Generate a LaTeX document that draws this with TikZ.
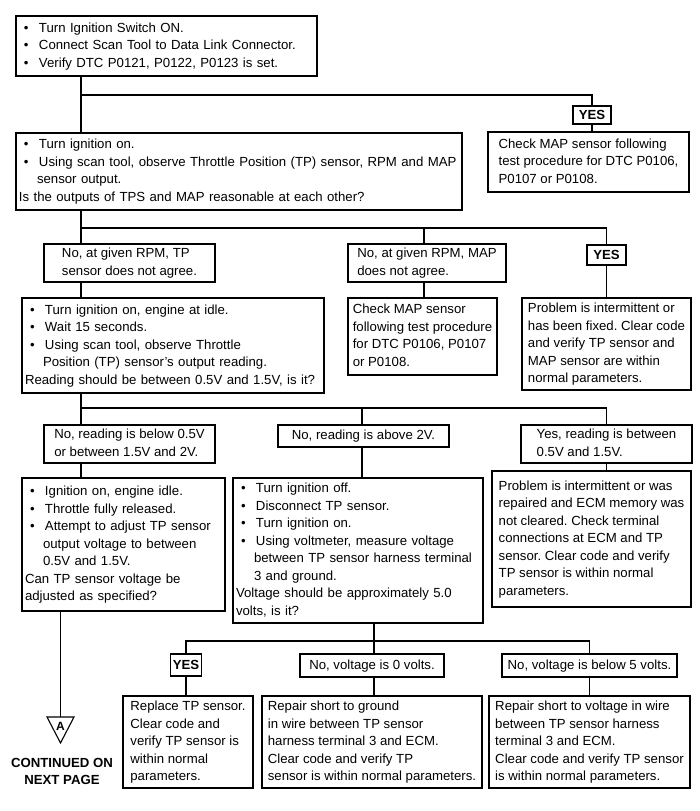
\documentclass[tikz,border=0pt]{standalone}
\usepackage{fontspec}
\setmainfont{Liberation Sans}
\setlength{\parindent}{0pt}
\frenchspacing
\newcommand\bu{\makebox[20pt][l]{\hspace{5pt}\textbullet}}
\newcommand\ct{\hspace*{18pt}}
\newcommand\tbl[1]{\begin{tabular}{@{}l@{}}#1\end{tabular}}
\begin{document}
\begin{tikzpicture}[x=1pt,y=-1pt,
  every node/.style={font=\fontsize{13.2}{17.5}\selectfont},
  box/.style={draw,line width=1.2pt,inner xsep=2pt,inner ysep=0pt},
  bbox/.style={draw,line width=1.2pt,inner xsep=3pt,inner ysep=0pt,align=left},
  yesbox/.style={box,font=\fontsize{13.2}{17.5}\selectfont\bfseries},
  conn/.style={line width=1.1pt}]
\useasboundingbox (0,0) rectangle (700,811);

% row 1
\node[bbox,text width=295pt,minimum height=60pt] (b1) at (166.5,46) {\tbl{%
\bu Turn Ignition Switch ON.\\
\bu Connect Scan Tool to Data Link Connector.\\
\bu Verify DTC P0121, P0122, P0123 is set.}};
\node[yesbox,minimum width=38pt,minimum height=18pt] (yes1) at (592,115) {YES};
\node[box,minimum width=201pt,minimum height=60pt] (b3) at (588.5,162) {\tbl{%
Check MAP sensor following\\
test procedure for DTC P0106,\\
P0107 or P0108.}};
\node[bbox,text width=440pt,minimum height=77pt] (b2) at (239,171.5) {\tbl{%
\bu Turn ignition on.\\
\bu Using scan tool, observe Throttle Position (TP) sensor, RPM and MAP\\
\ct sensor output.\\
Is the outputs of TPS and MAP reasonable at each other?}};

% row 2
\node[box,minimum width=171pt,minimum height=38pt] (l1) at (129.5,263) {\tbl{%
No, at given RPM, TP\\
sensor does not agree.}};
\node[box,minimum width=158pt,minimum height=38pt] (l2) at (427,263) {\tbl{%
No, at given RPM, MAP\\
does not agree.}};
\node[yesbox,minimum width=39pt,minimum height=20pt] (yes2) at (606.5,255) {YES};

\node[bbox,text width=296pt,minimum height=95pt] (tp) at (173,345.5) {\tbl{%
\bu Turn ignition on, engine at idle.\\
\bu Wait 15 seconds.\\
\bu Using scan tool, observe Throttle\\
\ct Position (TP) sensor's output reading.\\
Reading should be between 0.5V and 1.5V, is it?}};
\node[box,minimum width=149pt,minimum height=77pt] (b4) at (422.5,336.5) {\tbl{%
Check MAP sensor\\
following test procedure\\
for DTC P0106, P0107\\
or P0108.}};
\node[box,minimum width=169pt,minimum height=92pt] (b5) at (606.5,344) {\tbl{%
Problem is intermittent or\\
has been fixed. Clear code\\
and verify TP sensor and\\
MAP sensor are within\\
normal parameters.}};

% row 3
\node[box,minimum width=171pt,minimum height=38pt] (l3) at (129.5,444) {\tbl{%
No, reading is below 0.5V\\
or between 1.5V and 2V.}};
\node[box,minimum width=171pt,minimum height=22pt] (l4) at (363.5,436) {\tbl{%
No, reading is above 2V.}};
\node[box,minimum width=171pt,minimum height=38pt] (l5) at (606.5,444) {\tbl{%
Yes, reading is between\\
0.5V and 1.5V.}};

\node[bbox,text width=197pt,minimum height=133pt] (b6) at (123.5,544.5) {\tbl{%
\bu Ignition on, engine idle.\\
\bu Throttle fully released.\\
\bu Attempt to adjust TP sensor\\
\ct output voltage to between\\
\ct 0.5V and 1.5V.\\
Can TP sensor voltage be\\
adjusted as specified?}};
\node[bbox,text width=244pt,minimum height=145pt] (b7) at (358,550.5) {\tbl{%
\bu Turn ignition off.\\
\bu Disconnect TP sensor.\\
\bu Turn ignition on.\\
\bu Using voltmeter, measure voltage\\
\ct between TP sensor harness terminal\\
\ct 3 and ground.\\
Voltage should be approximately 5.0\\
volts, is it?}};
\node[box,minimum width=199pt,minimum height=136pt] (b8) at (591.5,539) {\tbl{%
Problem is intermittent or was\\
repaired and ECM memory was\\
not cleared. Check terminal\\
connections at ECM and TP\\
sensor. Clear code and verify\\
TP sensor is within normal\\
parameters.}};

% row 4
\node[yesbox,minimum width=30pt,minimum height=22pt] (yes3) at (186,665) {YES};
\node[box,minimum width=144pt,minimum height=23pt] (l6) at (372,665.5) {\tbl{%
No, voltage is 0 volts.}};
\node[box,minimum width=175pt,minimum height=23pt] (l7) at (589.5,665.5) {\tbl{%
No, voltage is below 5 volts.}};

\node[box,minimum width=130pt,minimum height=92pt] (r1) at (188,742) {\tbl{%
Replace TP sensor.\\
Clear code and\\
verify TP sensor is\\
within normal\\
parameters.}};
\node[box,minimum width=220pt,minimum height=92pt] (r2) at (372,742) {\tbl{%
Repair short to ground\\
in wire between TP sensor\\
harness terminal 3 and ECM.\\
Clear code and verify TP\\
sensor is within normal parameters.}};
\node[box,minimum width=201pt,minimum height=92pt] (r3) at (589.5,742) {\tbl{%
Repair short to voltage in wire\\
between TP sensor harness\\
terminal 3 and ECM.\\
Clear code and verify TP sensor\\
is within normal parameters.}};

% off-page connector
\coordinate (T) at (60.5,717);
\draw[line width=1.1pt] (47,717) -- (74,717) -- (60.5,743) -- cycle;
\node[font=\fontsize{12}{14}\selectfont\bfseries,inner sep=0pt] (tA) at (60.5,726) {A};
\node[font=\fontsize{13.2}{17}\selectfont\bfseries,align=center] (cont) at (62,771) {CONTINUED ON\\NEXT PAGE};

% junctions
\coordinate (J1) at (81,95);
\coordinate (J2) at (81,228);
\coordinate (K2) at (424,228);
\coordinate (J3) at (81,408);
\coordinate (K3) at (362,408);
\coordinate (J4) at (374,641);

% connectors
\draw[conn] (J1 |- b1.south) -- (J1 |- b2.north);
\draw[conn] (J1) -| (yes1.north);
\draw[conn] (yes1.south) -- (yes1.south |- b3.north);

\draw[conn] (J2 |- b2.south) -- (J2 |- l1.north);
\draw[conn] (J2) -| (yes2.north);
\draw[conn] (K2) -- (K2 |- l2.north);
\draw[conn] (J2 |- l1.south) -- (J2 |- tp.north);
\draw[conn] (K2 |- l2.south) -- (K2 |- b4.north);
\draw[conn] (yes2.south) -- (yes2.south |- b5.north);

\draw[conn] (J3 |- tp.south) -- (J3 |- l3.north);
\draw[conn] (J3) -| (l5.north);
\draw[conn] (K3) -- (K3 |- l4.north);
\draw[conn] (J3 |- l3.south) -- (J3 |- b6.north);
\draw[conn] (K3 |- l4.south) -- (K3 |- b7.north);
\draw[conn] (l5.south) -- (l5.south |- b8.north);

\draw[conn] (T |- b6.south) -- (T);

\draw[conn] (J4 |- b7.south) -- (J4);
\draw[conn] (yes3.north) |- (l7.north |- J4) -- (l7.north);
\draw[conn] (J4) -- (J4 |- l6.north);
\draw[conn] (yes3.south) -- (yes3.south |- r1.north);
\draw[conn] (J4 |- l6.south) -- (J4 |- r2.north);
\draw[conn] (l7.south) -- (l7.south |- r3.north);
\end{tikzpicture}
\end{document}
